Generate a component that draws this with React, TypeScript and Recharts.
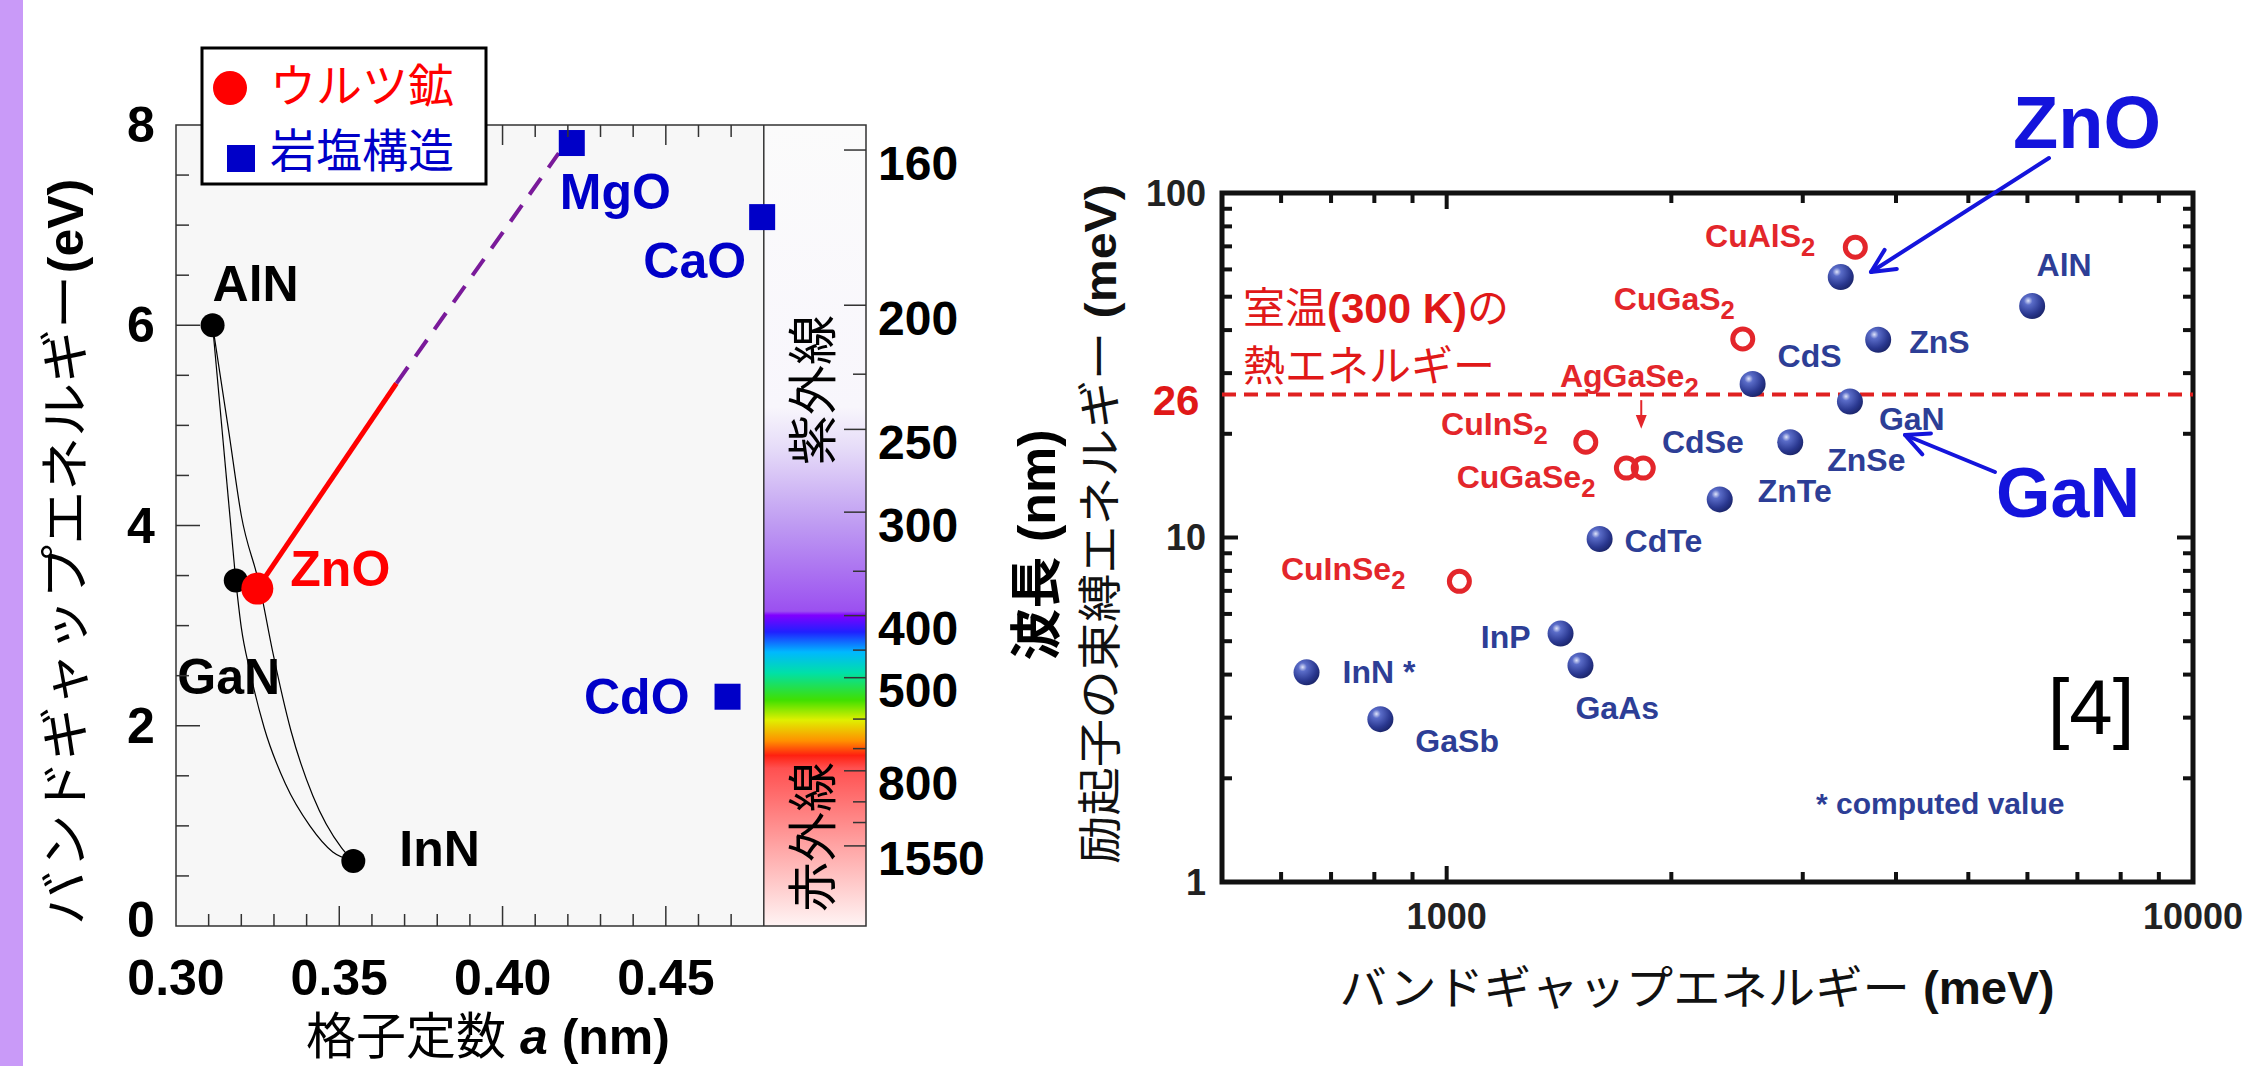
import React from "react";
import {
  ComposedChart,
  ScatterChart,
  Scatter,
  Line,
  XAxis,
  YAxis,
  ReferenceArea,
  ReferenceLine,
} from "recharts";

const LATIN = "'Liberation Sans', Arial, 'Noto Sans CJK JP', sans-serif";
const JP = "'Liberation Sans', 'Noto Sans CJK JP', sans-serif";

// ---- left panel: band gap vs lattice constant ----
const nitrideNames = ["AlN", "GaN", "InN"];
const nitrideA = [0.3112, 0.3183, 0.3543];
const nitrideEg = [6.0, 3.45, 0.65];
const wurtziteNames = ["ZnO"];
const wurtziteA = [0.3249];
const wurtziteEg = [3.37];
const rocksaltNames = ["MgO", "CaO", "CdO"];
const rocksaltA = [0.4212, 0.4795, 0.4689];
const rocksaltEg = [7.82, 7.08, 2.29];

// alloy curves
const alganA = [0.3112, 0.3183];
const alganEg = [6.0, 3.45];
const inganA = [0.3183, 0.32, 0.3226, 0.327, 0.3335, 0.341, 0.348, 0.3543];
const inganEg = [3.45, 2.98, 2.55, 1.98, 1.42, 1.0, 0.74, 0.65];
const alinnA = [0.3112, 0.3162, 0.32, 0.3256, 0.3296, 0.3352, 0.3419, 0.3507, 0.3543];
const alinnEg = [6.0, 4.93, 4.1, 3.4, 2.74, 1.95, 1.3, 0.78, 0.65];
const mgznoSolidA = [0.3249, 0.3675];
const mgznoSolidEg = [3.37, 5.42];
const mgznoDashA = [0.3675, 0.4172];
const mgznoDashEg = [5.42, 7.72];

const latticeTicks = [
  0.3, 0.31, 0.32, 0.33, 0.34, 0.35, 0.36, 0.37, 0.38, 0.39, 0.4, 0.41, 0.42,
  0.43, 0.44, 0.45, 0.46, 0.47,
];
const energyTicks = [0, 0.5, 1, 1.5, 2, 2.5, 3, 3.5, 4, 4.5, 5, 5.5, 6, 6.5, 7, 7.5, 8];
const energyLabels = [0, 2, 4, 6, 8];
const wavelengthLabels = [160, 200, 250, 300, 400, 500, 800, 1550];
const wavelengthMinor = [225, 350, 450, 600, 700, 1000, 1200];

// ---- right panel: exciton binding energy vs band gap ----
const sphereNames = ["ZnO", "AlN", "ZnS", "CdS", "GaN", "ZnSe", "ZnTe", "CdTe", "InP", "GaAs", "InN *", "GaSb"];
const sphereGap = [3373, 6088, 3786, 2570, 3470, 2886, 2322, 1603, 1421, 1511, 649, 815];
const sphereEb = [57, 47, 37.5, 27.9, 24.8, 18.9, 12.9, 9.9, 5.26, 4.25, 4.06, 2.97];
const ringNames = ["CuAlS2", "CuGaS2", "AgGaSe2", "CuInS2", "CuGaSe2", "CuInSe2"];
const ringGap = [3528, 2493, 1834, 1536, 1741, 1040];
const ringEb = [69.6, 37.7, 15.9, 18.9, 15.9, 7.46];
const thermalEnergy = 26;

const gapTicks = [600, 700, 800, 900, 1000, 2000, 3000, 4000, 5000, 6000, 7000, 8000, 9000, 10000];
const gapLabels = [1000, 10000];
const ebTicks = [1, 2, 3, 4, 5, 6, 7, 8, 9, 10, 20, 30, 40, 50, 60, 70, 80, 90, 100];
const ebLabels = [1, 10, 100];

// ---- layout ----
const PL = { left: 176, right: 866, gray: 763, top: 125, bottom: 926 };
const R_OFF = 1100;
const PR = { left: 122, right: 1093, top: 193, bottom: 882 };

const SPHERE_BLUE = "#2d3e96";
const RING_RED = "#e3262b";
const ROCK_BLUE = "#0000c8";

const leftLabelPos: Record<string, { dx: number; dy: number; anchor: "start" | "middle" | "end"; color: string }> = {
  AlN: { dx: 0, dy: -41, anchor: "start", color: "#000" },
  GaN: { dx: -7, dy: 96, anchor: "middle", color: "#000" },
  InN: { dx: 46, dy: -12, anchor: "start", color: "#000" },
  ZnO: { dx: 33, dy: -20, anchor: "start", color: "#ff0000" },
  MgO: { dx: -12, dy: 49, anchor: "start", color: ROCK_BLUE },
  CaO: { dx: -16, dy: 44, anchor: "end", color: ROCK_BLUE },
  CdO: { dx: -38, dy: 0, anchor: "end", color: ROCK_BLUE },
};

const rightLabelPos: Record<string, { dx: number; dy: number; anchor: "start" | "middle" | "end"; arrow?: boolean }> = {
  AlN: { dx: 32, dy: -41, anchor: "middle" },
  ZnS: { dx: 31, dy: 2, anchor: "start" },
  CdS: { dx: 25, dy: -28, anchor: "start" },
  GaN: { dx: 29, dy: 17, anchor: "start" },
  ZnSe: { dx: 37, dy: 18, anchor: "start" },
  ZnTe: { dx: 38, dy: -8, anchor: "start" },
  CdTe: { dx: 25, dy: 2, anchor: "start" },
  InP: { dx: -30, dy: 3, anchor: "end" },
  GaAs: { dx: -5, dy: 42, anchor: "start" },
  "InN *": { dx: 36, dy: 0, anchor: "start" },
  GaSb: { dx: 35, dy: 22, anchor: "start" },
  CuAlS2: { dx: -40, dy: -11, anchor: "end" },
  CuGaS2: { dx: -8, dy: -40, anchor: "end" },
  AgGaSe2: { dx: -14, dy: -92, anchor: "middle", arrow: true },
  CuInS2: { dx: -38, dy: -18, anchor: "end" },
  CuGaSe2: { dx: -31, dy: 9, anchor: "end" },
  CuInSe2: { dx: -54, dy: -12, anchor: "end" },
};

const zip = (names: string[], xs: number[], ys: number[], kx: string, ky: string) =>
  names.map((name, i) => ({ name, [kx]: xs[i], [ky]: ys[i] }));
const curve = (xs: number[], ys: number[]) => xs.map((a, i) => ({ a, e: ys[i] }));

const nitrides = zip(nitrideNames, nitrideA, nitrideEg, "a", "e");
const wurtzite = zip(wurtziteNames, wurtziteA, wurtziteEg, "a", "e");
const rocksalt = zip(rocksaltNames, rocksaltA, rocksaltEg, "a", "e");
const spheres = zip(sphereNames, sphereGap, sphereEb, "gap", "eb");
const rings = zip(ringNames, ringGap, ringEb, "gap", "eb");

const Formula = ({ name }: { name: string }) => {
  const m = name.match(/^(.*?)(\d+)$/);
  if (!m) return <>{name}</>;
  return (
    <>
      {m[1]}
      <tspan dy={9} fontSize="0.8em">{m[2]}</tspan>
    </>
  );
};

const LeftLabel = ({ cx, cy, name }: { cx: number; cy: number; name: string }) => {
  const p = leftLabelPos[name];
  if (!p) return null;
  return (
    <text x={cx + p.dx} y={cy + p.dy} textAnchor={p.anchor} dominantBaseline="central"
      fontFamily={LATIN} fontWeight="bold" fontSize={50} fill={p.color}>
      {name}
    </text>
  );
};

const BlackDot = (props: any) => (
  <g>
    <circle cx={props.cx} cy={props.cy} r={12} fill="#000" />
    <LeftLabel cx={props.cx} cy={props.cy} name={props.payload.name} />
  </g>
);
const RedDot = (props: any) => (
  <g>
    <circle cx={props.cx} cy={props.cy} r={16} fill="#ff0000" />
    <LeftLabel cx={props.cx} cy={props.cy} name={props.payload.name} />
  </g>
);
const BlueSquare = (props: any) => (
  <g>
    <rect x={props.cx - 13} y={props.cy - 13} width={26} height={26} fill={ROCK_BLUE} />
    <LeftLabel cx={props.cx} cy={props.cy} name={props.payload.name} />
  </g>
);

const RightLabel = ({ cx, cy, name, color }: { cx: number; cy: number; name: string; color: string }) => {
  const p = rightLabelPos[name];
  if (!p) return null;
  return (
    <g>
      <text x={cx + p.dx} y={cy + p.dy + 11} textAnchor={p.anchor} fontFamily={LATIN}
        fontWeight="bold" fontSize={32} fill={color}>
        <Formula name={name} />
      </text>
      {p.arrow ? (
        <g stroke={color} strokeWidth={2} fill={color}>
          <line x1={cx - 2} x2={cx - 2} y1={cy - 68} y2={cy - 50} />
          <path d={`M${cx - 6},${cy - 52} L${cx + 2},${cy - 52} L${cx - 2},${cy - 42} Z`} />
        </g>
      ) : null}
    </g>
  );
};

const Sphere = (props: any) => (
  <g>
    <circle cx={props.cx} cy={props.cy} r={13} fill="url(#sphereGrad)" />
    <RightLabel cx={props.cx} cy={props.cy} name={props.payload.name} color={SPHERE_BLUE} />
  </g>
);
const Ring = (props: any) => (
  <g>
    <circle cx={props.cx} cy={props.cy} r={10} fill="none" stroke={RING_RED} strokeWidth={5} />
    <RightLabel cx={props.cx} cy={props.cy} name={props.payload.name} color={RING_RED} />
  </g>
);

const LatticeTick = ({ x, payload }: any) => {
  const v = payload.value as number;
  const major = Math.round(v * 100) % 5 === 0;
  const inside = v > 0.3001 && v < 0.4799;
  const len = major ? 20 : 12;
  return (
    <g>
      {inside ? (
        <>
          <line x1={x} x2={x} y1={PL.bottom} y2={PL.bottom - len} stroke="#333" strokeWidth={1.5} />
          <line x1={x} x2={x} y1={PL.top} y2={PL.top + len} stroke="#333" strokeWidth={1.5} />
        </>
      ) : null}
      {major ? (
        <text x={x} y={978} textAnchor="middle" dominantBaseline="central" fontFamily={LATIN}
          fontWeight="bold" fontSize={50} fill="#000">
          {v.toFixed(2)}
        </text>
      ) : null}
    </g>
  );
};

const EnergyTick = ({ y, payload }: any) => {
  const v = payload.value as number;
  const major = energyLabels.includes(v);
  const inside = v > 0 && v < 8;
  return (
    <g>
      {inside ? (
        <line x1={PL.left} x2={PL.left + (major ? 24 : 13)} y1={y} y2={y} stroke="#333" strokeWidth={1.5} />
      ) : null}
      {major ? (
        <text x={141} y={v === 0 ? y - 6 : y} textAnchor="middle" dominantBaseline="central" fontFamily={LATIN}
          fontWeight="bold" fontSize={50} fill="#000">
          {v}
        </text>
      ) : null}
    </g>
  );
};

const WavelengthTick = ({ y, payload }: any) => {
  const nm = Math.round(1240 / (payload.value as number));
  const major = wavelengthLabels.includes(nm);
  return (
    <g>
      <line x1={PL.right} x2={PL.right - (major ? 22 : 13)} y1={y} y2={y} stroke="#333" strokeWidth={1.5} />
      {major ? (
        <text x={878} y={y + 13} dominantBaseline="central" fontFamily={LATIN} fontWeight="bold"
          fontSize={48} fill="#000">
          {nm}
        </text>
      ) : null}
    </g>
  );
};

const GapTick = ({ x, payload }: any) => {
  const v = payload.value as number;
  const inside = v > 500 && v < 10000;
  const major = v === 1000;
  const len = major ? 16 : 10;
  return (
    <g>
      {inside ? (
        <>
          <line x1={x} x2={x} y1={PR.bottom} y2={PR.bottom - len} stroke="#111" strokeWidth={4} />
          <line x1={x} x2={x} y1={PR.top} y2={PR.top + len} stroke="#111" strokeWidth={4} />
        </>
      ) : null}
      {gapLabels.includes(v) ? (
        <text x={x} y={916} textAnchor="middle" dominantBaseline="central" fontFamily={LATIN}
          fontWeight="bold" fontSize={36} fill="#222">
          {v}
        </text>
      ) : null}
    </g>
  );
};

const EbTick = ({ y, payload }: any) => {
  const v = payload.value as number;
  const inside = v > 1 && v < 100;
  const major = v === 10;
  const len = major ? 16 : 10;
  return (
    <g>
      {inside ? (
        <>
          <line x1={PR.left} x2={PR.left + len} y1={y} y2={y} stroke="#111" strokeWidth={4} />
          <line x1={PR.right} x2={PR.right - len} y1={y} y2={y} stroke="#111" strokeWidth={4} />
        </>
      ) : null}
      {ebLabels.includes(v) ? (
        <text x={106} y={y} textAnchor="end" dominantBaseline="central" fontFamily={LATIN}
          fontWeight="bold" fontSize={36} fill="#222">
          {v}
        </text>
      ) : null}
    </g>
  );
};

const LeftPanel = () => (
  <ComposedChart width={1010} height={1066} margin={{ top: PL.top, right: 4, bottom: 80, left: 116 }}>
    <XAxis type="number" dataKey="a" domain={[0.3, 0.5113]} allowDataOverflow ticks={latticeTicks}
      interval={0} tick={<LatticeTick />} axisLine={false} tickLine={false} height={60} />
    <YAxis yAxisId="e" type="number" dataKey="e" domain={[0, 8]} allowDataOverflow ticks={energyTicks}
      interval={0} tick={<EnergyTick />} axisLine={false} tickLine={false} width={60} />
    <YAxis yAxisId="wl" orientation="right" type="number" domain={[0, 8]} allowDataOverflow
      ticks={[...wavelengthLabels, ...wavelengthMinor].map((nm) => 1240 / nm)} interval={0}
      tick={<WavelengthTick />} axisLine={false} tickLine={false} width={140} />
    <ReferenceArea yAxisId="e" x1={0.3} x2={0.48} y1={0} y2={8} fill="#f7f7f7" fillOpacity={1} stroke="none" />
    <ReferenceArea yAxisId="e" x1={0.48} x2={0.5113} y1={0} y2={8} fill="url(#spectrum)" fillOpacity={1} stroke="none" />
    <ReferenceArea yAxisId="e" x1={0.3} x2={0.5113} y1={0} y2={8} fill="none" stroke="#333" strokeWidth={1.5} />
    <ReferenceLine yAxisId="e" x={0.48} stroke="#333" strokeWidth={1.5} />
    <Line yAxisId="e" data={curve(alganA, alganEg)} dataKey="e" type="linear" stroke="#000" strokeWidth={1.2} dot={false} isAnimationActive={false} />
    <Line yAxisId="e" data={curve(inganA, inganEg)} dataKey="e" type="monotone" stroke="#000" strokeWidth={1.2} dot={false} isAnimationActive={false} />
    <Line yAxisId="e" data={curve(alinnA, alinnEg)} dataKey="e" type="monotone" stroke="#000" strokeWidth={1.2} dot={false} isAnimationActive={false} />
    <Line yAxisId="e" data={curve(mgznoSolidA, mgznoSolidEg)} dataKey="e" type="linear" stroke="#ff0000" strokeWidth={5} dot={false} isAnimationActive={false} />
    <Line yAxisId="e" data={curve(mgznoDashA, mgznoDashEg)} dataKey="e" type="linear" stroke="#7a1a9a" strokeWidth={4} strokeDasharray="20 13" dot={false} isAnimationActive={false} />
    <Scatter yAxisId="e" data={nitrides} shape={<BlackDot />} isAnimationActive={false} />
    <Scatter yAxisId="e" data={rocksalt} shape={<BlueSquare />} isAnimationActive={false} />
    <Scatter yAxisId="e" data={wurtzite} shape={<RedDot />} isAnimationActive={false} />
  </ComposedChart>
);

const RightPanel = () => (
  <ScatterChart width={1151} height={1066} margin={{ top: PR.top, right: 58, bottom: 134, left: 52 }}>
    <XAxis type="number" dataKey="gap" scale="log" domain={[500, 10000]} allowDataOverflow ticks={gapTicks}
      interval={0} tick={<GapTick />} axisLine={false} tickLine={false} height={50} />
    <YAxis type="number" dataKey="eb" scale="log" domain={[1, 100]} allowDataOverflow ticks={ebTicks}
      interval={0} tick={<EbTick />} axisLine={false} tickLine={false} width={70} />
    <ReferenceLine y={thermalEnergy} stroke="#e02020" strokeWidth={4} strokeDasharray="14 8" />
    <ReferenceArea x1={500} x2={10000} y1={1} y2={100} fill="none" stroke="#111" strokeWidth={5} />
    <Scatter data={spheres} shape={<Sphere />} isAnimationActive={false} />
    <Scatter data={rings} shape={<Ring />} isAnimationActive={false} />
  </ScatterChart>
);

const Arrow = ({ x1, y1, x2, y2, color, w }: { x1: number; y1: number; x2: number; y2: number; color: string; w: number }) => {
  const ang = Math.atan2(y2 - y1, x2 - x1);
  const L = 26;
  const s = 0.45;
  const ax = x2 - L * Math.cos(ang - s);
  const ay = y2 - L * Math.sin(ang - s);
  const bx = x2 - L * Math.cos(ang + s);
  const by = y2 - L * Math.sin(ang + s);
  return (
    <g stroke={color} strokeWidth={w} fill="none" strokeLinecap="round" strokeLinejoin="round">
      <line x1={x1} y1={y1} x2={x2} y2={y2} />
      <polyline points={`${ax},${ay} ${x2},${y2} ${bx},${by}`} />
    </g>
  );
};

const Overlay = () => (
  <svg width={2251} height={1066} style={{ position: "absolute", left: 0, top: 0 }}>
    <defs>
      <linearGradient id="spectrum" x1="0" y1="0" x2="0" y2="1">
        <stop offset="0" stopColor="#fbfbfb" />
        <stop offset="0.352" stopColor="#f8f6fc" />
        <stop offset="0.403" stopColor="#e6dcf8" />
        <stop offset="0.497" stopColor="#bf9cf2" />
        <stop offset="0.607" stopColor="#9b50f0" />
        <stop offset="0.612" stopColor="#8000ff" />
        <stop offset="0.633" stopColor="#2020ff" />
        <stop offset="0.658" stopColor="#00b8ff" />
        <stop offset="0.684" stopColor="#00e0a8" />
        <stop offset="0.718" stopColor="#40e000" />
        <stop offset="0.743" stopColor="#e0f000" />
        <stop offset="0.769" stopColor="#ff9000" />
        <stop offset="0.787" stopColor="#ff2010" />
        <stop offset="0.803" stopColor="#ff5050" />
        <stop offset="0.905" stopColor="#ffa8a8" />
        <stop offset="1" stopColor="#fff4f4" />
      </linearGradient>
      <radialGradient id="sphereGrad" cx="0.35" cy="0.3" r="0.75">
        <stop offset="0" stopColor="#dfe4fa" />
        <stop offset="0.22" stopColor="#5a6cc8" />
        <stop offset="0.7" stopColor="#2a3890" />
        <stop offset="1" stopColor="#1a2468" />
      </radialGradient>
    </defs>

    <rect x={0} y={0} width={23} height={1066} fill="#c99af8" />

    {/* legend */}
    <rect x={202} y={48} width={284} height={136} fill="#fff" stroke="#000" strokeWidth={3} />
    <circle cx={230} cy={88} r={17} fill="#ff0000" />
    <text x={270} y={86} dominantBaseline="central" fontFamily={JP} fontSize={46} fill="#ff0000">ウルツ鉱</text>
    <rect x={227} y={145} width={28} height={27} fill={ROCK_BLUE} />
    <text x={270} y={151} dominantBaseline="central" fontFamily={JP} fontSize={46} fill={ROCK_BLUE}>岩塩構造</text>

    {/* left axis titles */}
    <text transform="translate(66,600) rotate(-90)" textAnchor="middle" dominantBaseline="central"
      fontFamily={JP} fontSize={50} fill="#000" textLength={650} lengthAdjust="spacingAndGlyphs">
      バンドギャップエネルギー
    </text>
    <text transform="translate(66,226) rotate(-90)" textAnchor="middle" dominantBaseline="central"
      fontFamily={LATIN} fontWeight="bold" fontSize={50} fill="#000">
      (eV)
    </text>
    <text x={488} y={1037} textAnchor="middle" dominantBaseline="central" fontFamily={JP} fontSize={50} fill="#000">
      格子定数 <tspan fontWeight="bold" fontStyle="italic">a</tspan><tspan fontWeight="bold"> (nm)</tspan>
    </text>
    <text transform="translate(814,390) rotate(-90)" textAnchor="middle" dominantBaseline="central"
      fontFamily={JP} fontSize={50} fill="#000">紫外線</text>
    <text transform="translate(814,837) rotate(-90)" textAnchor="middle" dominantBaseline="central"
      fontFamily={JP} fontSize={50} fill="#000">赤外線</text>
    <text transform="translate(1037,545) rotate(-90)" textAnchor="middle" dominantBaseline="central"
      fontFamily={JP} fontWeight="bold" fontSize={52} fill="#000">波長 (nm)</text>

    {/* right axis titles */}
    <text transform="translate(1100,524) rotate(-90)" textAnchor="middle" dominantBaseline="central"
      fontFamily={JP} fontSize={44} fill="#111" textLength={680} lengthAdjust="spacingAndGlyphs">
      励起子の束縛エネルギー <tspan fontWeight="bold">(meV)</tspan>
    </text>
    <text x={1697} y={988} textAnchor="middle" dominantBaseline="central" fontFamily={JP} fontSize={46}
      fill="#111" textLength={715} lengthAdjust="spacingAndGlyphs">
      バンドギャップエネルギー <tspan fontWeight="bold">(meV)</tspan>
    </text>

    {/* right annotations */}
    <text x={1176} y={400} textAnchor="middle" dominantBaseline="central" fontFamily={LATIN}
      fontWeight="bold" fontSize={42} fill="#e01818">26</text>
    <text x={1243} y={308} dominantBaseline="central" fontFamily={JP} fontSize={42} fill="#e01818">
      室温<tspan fontFamily={LATIN} fontWeight="bold">(300 K)</tspan>の
    </text>
    <text x={1243} y={366} dominantBaseline="central" fontFamily={JP} fontSize={42} fill="#e01818">
      熱エネルギー
    </text>
    <text x={1662} y={453} fontFamily={LATIN} fontWeight="bold" fontSize={32} fill={SPHERE_BLUE}>CdSe</text>
    <text x={2091} y={707} textAnchor="middle" dominantBaseline="central" fontFamily={LATIN} fontSize={78} fill="#000">[4]</text>
    <text x={1816} y={803} dominantBaseline="central" fontFamily={LATIN} fontWeight="bold" fontSize={30} fill={SPHERE_BLUE}>
      * computed value
    </text>
    <text x={2087} y={122} textAnchor="middle" dominantBaseline="central" fontFamily={LATIN}
      fontWeight="bold" fontSize={74} fill="#1414dc">ZnO</text>
    <text x={2068} y={493} textAnchor="middle" dominantBaseline="central" fontFamily={LATIN}
      fontWeight="bold" fontSize={70} fill="#1414dc">GaN</text>
    <Arrow x1={2049} y1={158} x2={1871} y2={272} color="#1414dc" w={4} />
    <Arrow x1={1995} y1={472} x2={1905} y2={435} color="#1414dc" w={4} />
  </svg>
);

export default function App() {
  return (
    <div style={{ position: "fixed", left: 0, top: 0, width: 2251, height: 1066, background: "#fff", overflow: "hidden" }}>
      <div style={{ position: "absolute", left: 0, top: 0 }}>
        <LeftPanel />
      </div>
      <div style={{ position: "absolute", left: R_OFF, top: 0 }}>
        <RightPanel />
      </div>
      <Overlay />
    </div>
  );
}
